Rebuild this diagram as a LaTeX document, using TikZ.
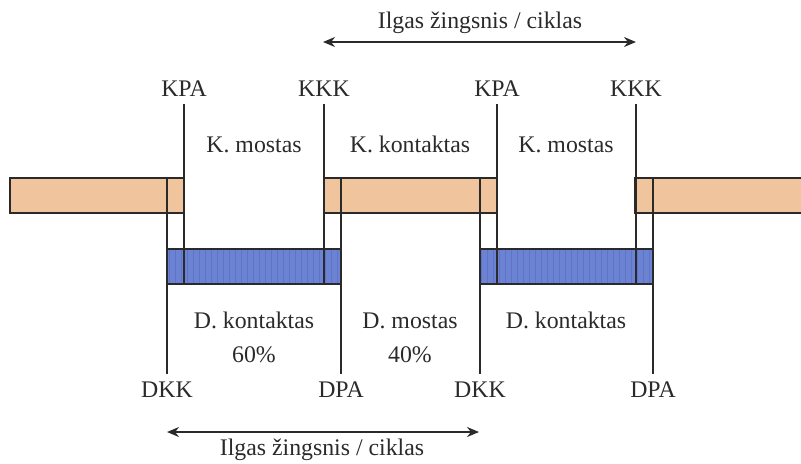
\documentclass[tikz,border=0pt]{standalone}
\usepackage{fontspec}
\setmainfont{Liberation Serif}
\usepackage{tikz}
\usetikzlibrary{arrows.meta,positioning,patterns}

\begin{document}
\begin{tikzpicture}[x=0.5pt,y=-0.5pt,font=\fontsize{11.9}{14}\selectfont]
\definecolor{kbar}{HTML}{F0C49C}
\definecolor{dbar}{HTML}{6C82D2}
\definecolor{dstripe}{HTML}{5E74C8}
\definecolor{ink}{HTML}{2A2A2A}
\tikzset{
  lbl/.style={inner sep=0pt,anchor=base,text=ink},
  tick/.style={ink,line width=0.8pt},
  kbox/.style={fill=kbar,draw=ink,line width=0.8pt},
  dbox/.style={fill=dbar,draw=ink,line width=0.8pt},
  span/.style={{Stealth[length=6pt,width=5pt]}-{Stealth[length=6pt,width=5pt]},ink,line width=0.9pt}
}
\useasboundingbox (0,0) rectangle (801,463);

% Kojos (oranzines) juostos
\draw[kbox] (10,178) rectangle (184,213);
\draw[kbox] (324,178) rectangle (497,213);
\fill[kbar] (635,178) rectangle (801,213);
\draw[ink,line width=0.8pt] (801,178) -- (635,178) -- (635,213) -- (801,213);

% Dvieju kojos (melynos) juostos
\draw[dbox] (167,249) rectangle (341,284);
\fill[pattern=vertical lines,pattern color=dstripe] (167,249) rectangle (341,284);
\draw[dbox] (480,249) rectangle (653,284);
\fill[pattern=vertical lines,pattern color=dstripe] (480,249) rectangle (653,284);
\draw[ink,line width=0.8pt] (167,249) rectangle (341,284) (480,249) rectangle (653,284);

% Virsutines ir apatines zymes
\coordinate (ktop) at (0,178);
\coordinate (dlow) at (0,284);
\foreach \n/\x/\t in {kpa1/184/KPA,kkk1/324/KKK,kpa2/497/KPA,kkk2/636/KKK} {
  \node[lbl] (\n) at (\x,96) {\t};
  \draw[tick] (\x,104) -- (\n |- dlow);
}
\foreach \n/\x/\t in {dkk1/167/DKK,dpa1/341/DPA,dkk2/480/DKK,dpa2/653/DPA} {
  \node[lbl] (\n) at (\x,397) {\t};
  \draw[tick] (\n |- ktop) -- (\x,374);
}

% Fazes
\node[lbl] (km1) at (254,152) {K. mostas};
\node[lbl] (kk1) at (410,152) {K. kontaktas};
\node[lbl] (km2) at (566,152) {K. mostas};
\node[lbl] (dk1) at (254,328) {D. kontaktas};
\node[lbl] (dm1) at (410,328) {D. mostas};
\node[lbl] (dk2) at (566,328) {D. kontaktas};
\node[lbl] (pc1) at (254,362) {60\%};
\node[lbl] (pc2) at (410,362) {40\%};

% Zingsnio ilgis
\coordinate (ta) at (323,42);
\coordinate (tb) at (636,42);
\draw[span] (ta) -- (tb);
\node[lbl] (ttxt) at (480,28) {Ilgas žingsnis / ciklas};
\coordinate (ba) at (167,432);
\coordinate (bb) at (479,432);
\draw[span] (ba) -- (bb);
\node[lbl] (btxt) at (322,455) {Ilgas žingsnis / ciklas};
\end{tikzpicture}
\end{document}
